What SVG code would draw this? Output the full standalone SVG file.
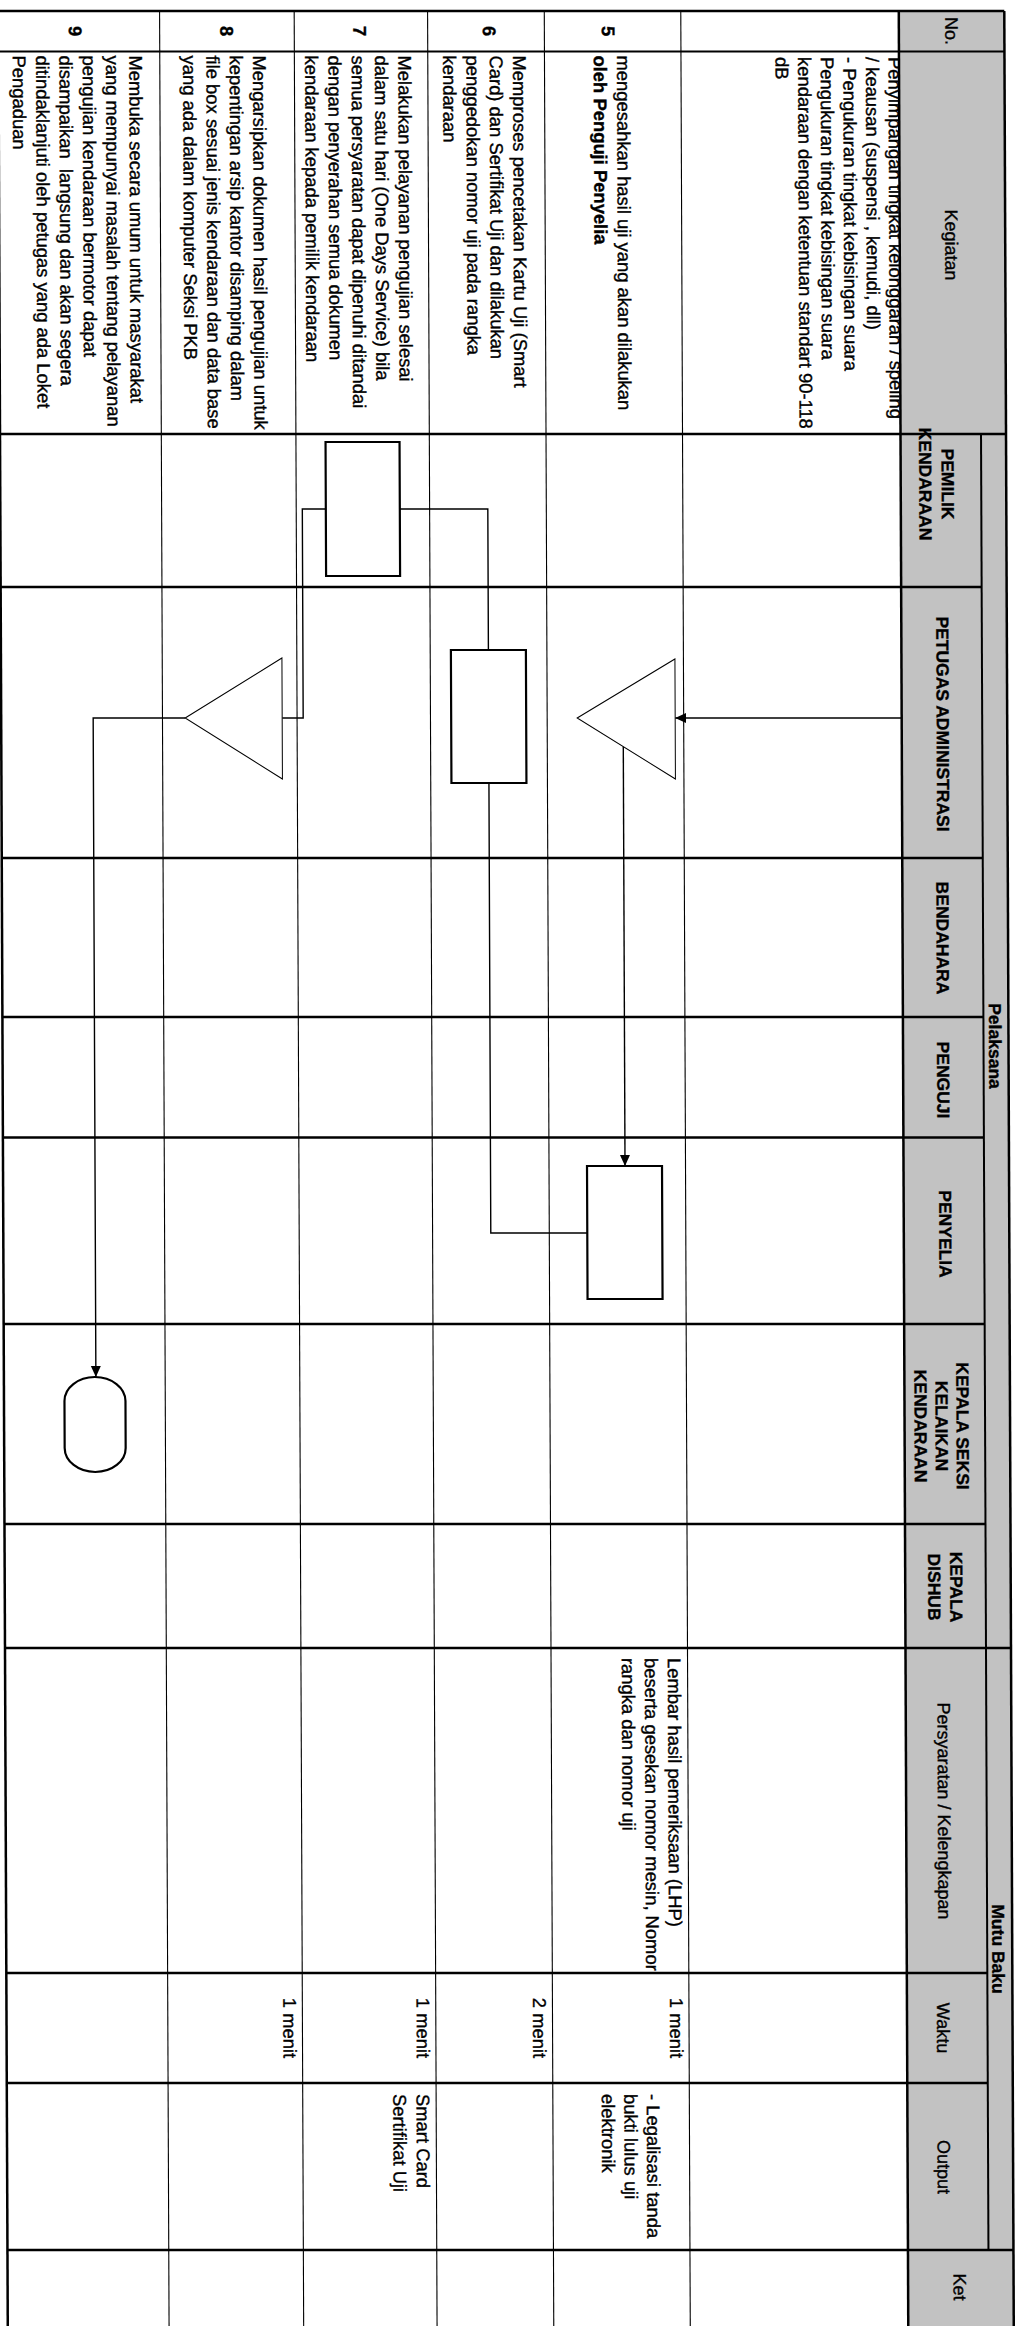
<svg xmlns="http://www.w3.org/2000/svg" width="1023" height="2326" viewBox="0 0 1023 2326">
<style>
.thin{stroke:#000;stroke-width:1.1;fill:none}
.thick{stroke:#000;stroke-width:2.5;fill:none}
.mid{stroke:#000;stroke-width:2;fill:none}
.hdr{fill:#c2c2c2}
text{font-family:"Liberation Sans",Arial,Helvetica,sans-serif;fill:#000;stroke:#000;stroke-width:0.35}
.b{font-size:18.4px}
.bb{font-size:18.4px;font-weight:bold}
.num{font-size:18.4px;font-weight:bold;text-anchor:middle}
.h{font-size:17.5px;font-weight:bold;text-anchor:middle}
.hm{font-size:18px;text-anchor:middle}
.c{text-anchor:middle}
.node{fill:#fff;stroke:#000;stroke-width:2.2}
.tri{fill:#fff;stroke:#000;stroke-width:1}
.conn{fill:none;stroke:#000;stroke-width:1.4}
</style>
<defs>
<marker id="ah" markerUnits="userSpaceOnUse" markerWidth="12" markerHeight="11" refX="11" refY="5" orient="auto"><path d="M0,0 L11,5 L0,10 z" fill="#000"/></marker>
</defs>
<rect x="0" y="0" width="1023" height="2326" fill="#fff"/>
<g transform="matrix(1 0 0.0041 1 -4.77 0)">
<g id="row4-text">
<text class="b" transform="translate(893,57) rotate(90)"><tspan x="0" y="0">Penyimpangan tingkat kelonggaran / speling</tspan><tspan x="0" dy="22.6">/ keausan (suspensi , kemudi, dll)</tspan><tspan x="0" dy="22.6">- Pengukuran tingkat kebisingan suara</tspan><tspan x="0" dy="22.6">Pengukuran tingkat kebisingan suara</tspan><tspan x="0" dy="22.6">kendaraan dengan ketentuan standart 90-118</tspan><tspan x="0" dy="22.6">dB</tspan></text>
</g>
<g id="grid">
<rect class="hdr" x="903.5" y="11" width="105.5" height="2315"/>
<line class="thin" x1="164.3" y1="11" x2="164.3" y2="2326"/>
<line class="thin" x1="298.9" y1="11" x2="298.9" y2="2326"/>
<line class="thin" x1="432.3" y1="11" x2="432.3" y2="2326"/>
<line class="thin" x1="549" y1="11" x2="549" y2="2326"/>
<line class="thin" x1="685.5" y1="11" x2="685.5" y2="2326"/>
<line class="thick" x1="3" y1="11" x2="3" y2="2326"/>
<line class="thick" x1="903.5" y1="11" x2="903.5" y2="2326"/>
<line class="thick" x1="1009" y1="11" x2="1009" y2="2326"/>
<line class="mid" x1="984" y1="434" x2="984" y2="2250"/>
<line class="thick" x1="3" y1="11" x2="1009" y2="11"/>
<line class="mid" x1="3" y1="51.5" x2="1009" y2="51.5"/>
<line class="thick" x1="3" y1="434" x2="1009" y2="434"/>
<line class="thick" x1="3" y1="587" x2="984" y2="587"/>
<line class="thick" x1="3" y1="858" x2="984" y2="858"/>
<line class="thick" x1="3" y1="1017" x2="984" y2="1017"/>
<line class="thick" x1="3" y1="1137.5" x2="984" y2="1137.5"/>
<line class="thick" x1="3" y1="1324" x2="984" y2="1324"/>
<line class="thick" x1="3" y1="1524" x2="984" y2="1524"/>
<line class="thick" x1="3" y1="1648" x2="1009" y2="1648"/>
<line class="thick" x1="3" y1="1973" x2="984" y2="1973"/>
<line class="thick" x1="3" y1="2083" x2="984" y2="2083"/>
<line class="thick" x1="3" y1="2250" x2="1009" y2="2250"/>
</g>
<g id="headers">
<text class="hm" transform="translate(950,31) rotate(90)">No.</text>
<text class="hm" transform="translate(949,245) rotate(90)">Kegiatan</text>
<text class="h" transform="translate(944.5,484) rotate(90)"><tspan x="0" y="0">PEMILIK</tspan><tspan x="0" dy="22.5">KENDARAAN</tspan></text>
<text class="h" transform="translate(938.5,724) rotate(90)">PETUGAS ADMINISTRASI</text>
<text class="h" transform="translate(937.5,938) rotate(90)">BENDAHARA</text>
<text class="h" transform="translate(937.5,1080) rotate(90)">PENGUJI</text>
<text class="h" transform="translate(939,1234) rotate(90)">PENYELIA</text>
<text class="h" transform="translate(955.5,1426) rotate(90)"><tspan x="0" y="0">KEPALA SEKSI</tspan><tspan x="0" dy="21">KELAIKAN</tspan><tspan x="0" dy="21">KENDARAAN</tspan></text>
<text class="h" transform="translate(948.5,1587) rotate(90)"><tspan x="0" y="0">KEPALA</tspan><tspan x="0" dy="22">DISHUB</tspan></text>
<text class="h" transform="translate(989.5,1046) rotate(90)">Pelaksana</text>
<text class="h" transform="translate(989,1949) rotate(90)">Mutu Baku</text>
<text class="hm" transform="translate(935.3,1811) rotate(90)">Persyaratan / Kelengkapan</text>
<text class="hm" transform="translate(933.5,2028) rotate(90)">Waktu</text>
<text class="hm" transform="translate(933.5,2167) rotate(90)">Output</text>
<text class="hm" transform="translate(949,2287) rotate(90)">Ket</text>
</g>
<g id="rows">
<text class="num" transform="translate(606.5,31) rotate(90)">5</text>
<text class="num" transform="translate(487.5,31) rotate(90)">6</text>
<text class="num" transform="translate(358,31) rotate(90)">7</text>
<text class="num" transform="translate(225,31) rotate(90)">8</text>
<text class="num" transform="translate(73.5,31) rotate(90)">9</text>
<text class="b" transform="translate(621.5,55.5) rotate(90)"><tspan x="0" y="0">mengesahkan hasil uji yang akan dilakukan</tspan><tspan class="bb" x="0" dy="23.3">oleh Penguji Penyelia</tspan></text>
<text class="b" transform="translate(517.5,55.5) rotate(90)"><tspan x="0" y="0">Memproses pencetakan Kartu Uji (Smart</tspan><tspan x="0" dy="23.3">Card) dan Sertifikat Uji dan dilakukan</tspan><tspan x="0" dy="23.3">penggedokan nomor uji pada rangka</tspan><tspan x="0" dy="23.3">kendaraan</tspan></text>
<text class="b" transform="translate(402.8,55.5) rotate(90)"><tspan x="0" y="0">Melakukan pelayanan pengujian selesai</tspan><tspan x="0" dy="23.3">dalam satu hari (One Days Service) bila</tspan><tspan x="0" dy="23.3">semua persyaratan dapat dipenuhi ditandai</tspan><tspan x="0" dy="23.3">dengan penyerahan semua dokumen</tspan><tspan x="0" dy="23.3">kendaraan kepada pemilik kendaraan</tspan></text>
<text class="b" transform="translate(257.5,55.5) rotate(90)"><tspan x="0" y="0">Mengarsipkan dokumen hasil pengujian untuk</tspan><tspan x="0" dy="23.3">kepentingan arsip kantor disamping dalam</tspan><tspan x="0" dy="23.3">file box sesuai jenis kendaraan dan data base</tspan><tspan x="0" dy="23.3">yang ada dalam komputer Seksi PKB</tspan></text>
<text class="b" transform="translate(133.8,55.5) rotate(90)"><tspan x="0" y="0">Membuka secara umum untuk masyarakat</tspan><tspan x="0" dy="23.3">yang mempunyai masalah tentang pelayanan</tspan><tspan x="0" dy="23.3">pengujian kendaraan bermotor dapat</tspan><tspan x="0" dy="23.3">disampaikan&#160; langsung dan akan segera</tspan><tspan x="0" dy="23.3">ditindaklanjuti oleh petugas yang ada Loket</tspan><tspan x="0" dy="23.3">Pengaduan</tspan></text>
<text class="b" transform="translate(665.8,1658) rotate(90)"><tspan x="0" y="0">Lembar hasil pemeriksaan (LHP)</tspan><tspan x="0" dy="23">beserta gesekan nomor mesin, Nomor</tspan><tspan x="0" dy="23">rangka dan nomor uji</tspan></text>
<text class="b c" transform="translate(666.5,2028) rotate(90)">1 menit</text>
<text class="b c" transform="translate(529.5,2028) rotate(90)">2 menit</text>
<text class="b c" transform="translate(413.2,2028) rotate(90)">1 menit</text>
<text class="b c" transform="translate(279.8,2028) rotate(90)">1 menit</text>
<text class="b" transform="translate(643,2094) rotate(90)"><tspan x="0" y="0">- Legalisasi tanda</tspan><tspan x="0" dy="22.5">bukti lulus uji</tspan><tspan x="0" dy="22.5">elektronik</tspan></text>
<text class="b" transform="translate(412.7,2094) rotate(90)"><tspan x="0" y="0">Smart Card</tspan><tspan x="0" dy="23.3">Sertifikat Uji</tspan></text>
</g>
<g id="connectors">
<path id="c1" class="conn" d="M903.5,718 H677" marker-end="url(#ah)"/>
<path id="c2" class="conn" d="M625,747 V1166" marker-end="url(#ah)"/>
<path id="c3" class="conn" d="M587,1233 H490.5 V783"/>
<path id="c4" class="conn" d="M490.5,650 V509 H402.5"/>
<path id="c5" class="conn" d="M328.5,509 H305 V718 H284"/>
<path id="c6" class="conn" d="M187,718 H95 V1377" marker-end="url(#ah)"/>
</g>
<g id="node-tri5"><polygon class="tri" points="579,718 677,659 677,779"/></g>
<g id="node-rect-penyelia5"><rect class="node" x="587" y="1166" width="75" height="133"/></g>
<g id="node-rect-petugas6"><rect class="node" x="453" y="650" width="75" height="133"/></g>
<g id="node-rect-pemilik7"><rect class="node" x="328.5" y="442" width="74" height="134"/></g>
<g id="node-tri8"><polygon class="tri" points="187,718 284,658 284,779"/></g>
<g id="node-term9"><rect class="node" x="63.5" y="1377" width="61" height="95" rx="30.5" ry="24"/></g>
</g>
</svg>
